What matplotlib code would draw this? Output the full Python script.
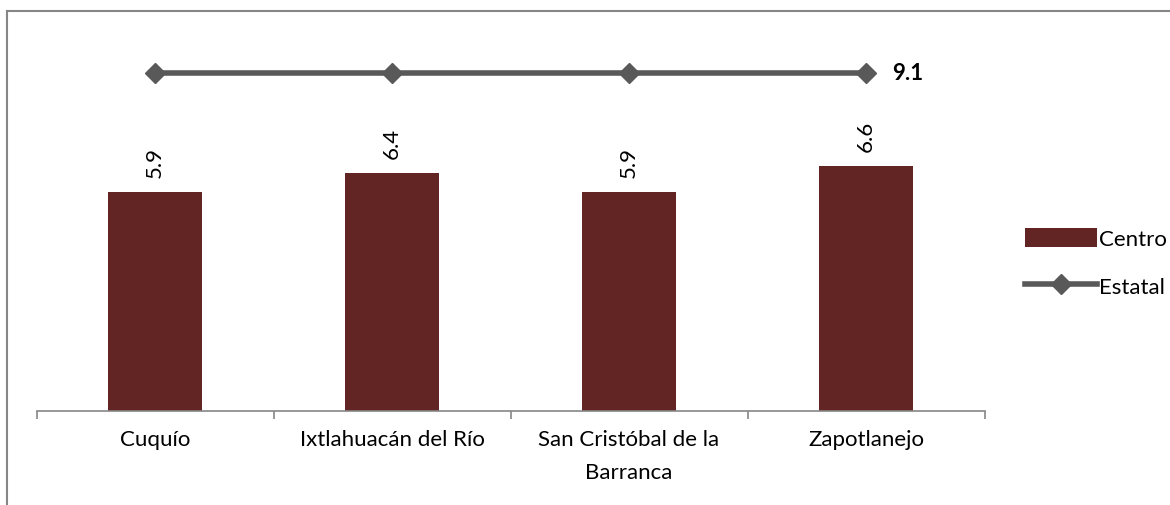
import numpy as np
import matplotlib.pyplot as plt
from matplotlib.lines import Line2D

plt.rcParams['font.family'] = ['Lato', 'DejaVu Sans']

municipios = ['Cuquío', 'Ixtlahuacán del Río', 'San Cristóbal de la\nBarranca', 'Zapotlanejo']
centro = [5.9, 6.4, 5.9, 6.6]
estatal = [9.1, 9.1, 9.1, 9.1]

bar_color = '#632523'
line_color = '#595959'
axis_color = '#868686'
fs = 16

fig = plt.figure(figsize=(11.7, 5.06), dpi=100)
ax = fig.add_axes([0.0312, 0.185, 0.8103, 0.735])

x = np.arange(len(municipios))
bars = ax.bar(x, centro, width=0.4, color=bar_color, label='Centro', zorder=2)
line, = ax.plot(x, estatal, color=line_color, lw=4, marker='D', ms=10, label='Estatal', zorder=3)

# etiquetas de datos
for xi, v in zip(x, centro):
    ax.text(xi, v + 0.4, f'{v:.1f}', rotation=90, ha='center', va='bottom', fontsize=fs)
ax.text(x[-1] + 0.11, estatal[-1], f'{estatal[-1]:.1f}', ha='left', va='center',
        fontsize=fs, fontweight='bold')

ax.set_xlim(-0.5, len(municipios) - 0.5)
ax.set_ylim(0, 10)
ax.set_yticks([])
for s in ['top', 'right', 'left']:
    ax.spines[s].set_visible(False)
ax.spines['bottom'].set_color(axis_color)
ax.spines['bottom'].set_linewidth(1.2)

# ticks entre categorias
ax.set_xticks(np.arange(len(municipios) + 1) - 0.5, minor=False)
ax.set_xticklabels([])
ax.tick_params(axis='x', which='major', length=6, color=axis_color, width=1.2)
ax.set_xticks(x, minor=True)
ax.set_xticklabels(municipios, minor=True, fontsize=fs, linespacing=1.8)
ax.tick_params(axis='x', which='minor', length=0, pad=13)

leg = ax.legend([bars, line], ['Centro', 'Estatal'], loc='center left',
                bbox_to_anchor=(1.022, 0.40), frameon=False,
                fontsize=fs, handlelength=3.2, handleheight=0.9, handletextpad=0.1,
                labelspacing=1.2)

# borde del grafico (solo izquierda y arriba visibles)
fig.add_artist(Line2D([0.006, 0.006], [0, 0.977], transform=fig.transFigure,
                      color=axis_color, lw=1.5))
fig.add_artist(Line2D([0.006, 1.0], [0.977, 0.977], transform=fig.transFigure,
                      color=axis_color, lw=1.5))

fig.savefig('out.png', dpi=100)
